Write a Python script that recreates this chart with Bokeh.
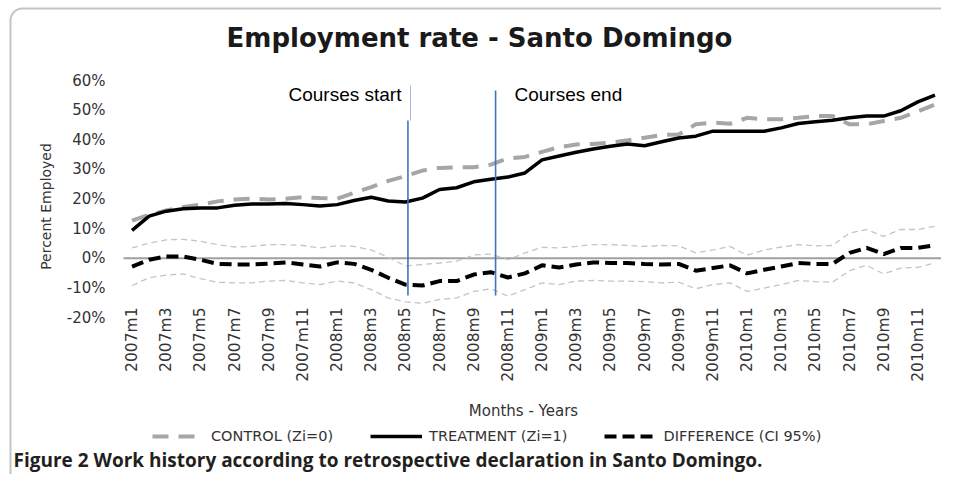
import math
from bokeh.plotting import figure
from bokeh.models import Range1d, Label, Legend, LegendItem, BoxAnnotation
from bokeh.core.properties import value
from bokeh.embed import file_html
from bokeh.resources import INLINE

# ---------------- data ----------------
months = ["2007m1", "2007m2", "2007m3", "2007m4", "2007m5", "2007m6", "2007m7", "2007m8",
          "2007m9", "2007m10", "2007m11", "2007m12",
          "2008m1", "2008m2", "2008m3", "2008m4", "2008m5", "2008m6", "2008m7", "2008m8",
          "2008m9", "2008m10", "2008m11", "2008m12",
          "2009m1", "2009m2", "2009m3", "2009m4", "2009m5", "2009m6", "2009m7", "2009m8",
          "2009m9", "2009m10", "2009m11", "2009m12",
          "2010m1", "2010m2", "2010m3", "2010m4", "2010m5", "2010m6", "2010m7", "2010m8",
          "2010m9", "2010m10", "2010m11", "2010m12"]

control = [12.7, 14.7, 16.1, 17.3, 18.1, 19.2, 19.8, 20.1, 19.8, 20.1, 20.6, 20.3,
           20.1, 22.1, 24.0, 26.1, 27.7, 29.6, 30.5, 30.7, 30.7, 31.6, 33.7, 34.2,
           35.9, 37.5, 38.4, 38.6, 39.0, 39.8, 40.7, 41.6, 41.8, 45.2, 45.8, 45.4,
           47.4, 46.9, 46.9, 47.4, 48.0, 48.0, 45.2, 45.2, 46.3, 47.4, 49.6, 51.9]

treatment = [9.4, 14.2, 15.9, 16.7, 17.0, 17.0, 17.9, 18.3, 18.3, 18.5, 18.1, 17.6,
             18.1, 19.5, 20.6, 19.3, 19.0, 20.3, 23.2, 23.8, 25.8, 26.7, 27.4, 28.8,
             33.2, 34.5, 35.8, 36.9, 37.8, 38.6, 38.0, 39.3, 40.6, 41.2, 42.9, 42.9,
             42.9, 42.9, 44.0, 45.5, 46.1, 46.6, 47.4, 48.0, 48.0, 49.8, 52.8, 55.1]

difference = [-2.8, -0.5, 0.6, 0.6, -0.5, -1.9, -2.1, -2.1, -1.8, -1.4, -2.1, -2.8,
              -1.4, -1.9, -3.9, -6.6, -8.9, -9.2, -7.7, -7.7, -5.5, -4.7, -6.5, -5.1,
              -2.4, -3.1, -2.1, -1.4, -1.6, -1.6, -1.9, -2.1, -1.9, -4.2, -3.3, -2.4,
              -5.1, -3.9, -2.8, -1.6, -1.9, -1.9, 1.8, 3.5, 1.4, 3.5, 3.5, 4.4]

ci_upper = [3.5, 5.1, 6.2, 6.4, 5.7, 4.6, 3.8, 4.0, 4.6, 4.6, 4.3, 3.5,
            4.2, 4.0, 2.8, 0.3, -2.6, -2.1, -1.6, -1.0, 1.1, 1.4, -0.5, 1.8,
            3.7, 3.5, 4.0, 4.6, 4.6, 4.3, 4.0, 4.3, 4.2, 1.8, 2.8, 4.0,
            1.0, 2.8, 3.8, 4.6, 4.2, 4.3, 8.5, 9.7, 7.4, 9.7, 9.7, 10.8]

ci_lower = [-9.2, -6.6, -5.7, -5.3, -6.9, -8.1, -8.3, -8.3, -7.7, -7.5, -8.3, -8.9,
            -7.7, -8.3, -10.6, -13.4, -14.7, -15.2, -13.9, -13.4, -11.2, -10.3, -12.8, -10.6,
            -8.3, -8.9, -7.7, -7.5, -7.7, -7.7, -7.9, -8.3, -8.1, -10.3, -8.9, -8.3,
            -11.2, -10.1, -8.9, -7.5, -7.9, -8.1, -4.2, -2.4, -5.3, -3.3, -3.1, -1.6]

y_ticks = [-20, -10, 0, 10, 20, 30, 40, 50, 60]
x_ticks = list(range(0, len(months), 2))
x_tick_labels = [months[i] for i in x_ticks]

# course markers (month-index units, percent units)
course_start_x = 16.15
course_end_x = 21.28
marker_bottom = -12.6
course_start_top = 46.5
course_start_thin_top = 58.3
course_end_top = 56.6

x = list(range(len(months)))

# ---------------- layout ----------------
W, H = 941, 474
# plot area (picture px): x 123..943 <-> -0.5..47.5 ; y 80..317 <-> 60..-20
PX0, PX1, PY0, PY1 = 123, 943, 80, 317
X0, X1, Y0, Y1 = -0.5, 47.5, -20, 60


def dx(px):
    return X0 + (px - PX0) / (PX1 - PX0) * (X1 - X0)


def dy(py):
    return Y1 - (py - PY0) / (PY1 - PY0) * (Y1 - Y0)


p = figure(width=W, height=H, output_backend="svg", toolbar_location=None,
           x_range=Range1d(dx(0), dx(W)), y_range=Range1d(dy(H), dy(0)),
           min_border=0, x_axis_location=None, y_axis_location=None, title=None)
p.xgrid.visible = False
p.ygrid.visible = False
p.outline_line_color = None

TXT = "#333333"
FONT = "DejaVu Sans"

# frame box round the figure
p.add_layout(BoxAnnotation(left=dx(10), right=dx(1200), top=dy(8), bottom=dy(700),
                           fill_alpha=0, line_color="#3a3a3a", line_width=2,
                           border_radius=12, level="underlay"))

# y tick labels
p.text(x=[dx(105)] * len(y_ticks), y=y_ticks, text=[f"{t}%" for t in y_ticks],
       text_align="right", text_baseline="middle", text_font=value(FONT),
       text_font_size=value("15px"), text_color=TXT)
# x tick labels
p.text(x=x_ticks, y=[dy(307)] * len(x_ticks), text=x_tick_labels, angle=math.pi / 2,
       text_align="right", text_baseline="middle", text_font=value(FONT),
       text_font_size=value("15.5px"), text_color=TXT)

# zero / category axis line
p.segment(x0=[X0], y0=[0], x1=[X1], y1=[0], line_color="#a0a0a0", line_width=2)

# series
p.line(x, ci_upper, line_color="#c4c4c4", line_width=1.3, line_dash="6 4")
p.line(x, ci_lower, line_color="#c4c4c4", line_width=1.3, line_dash="6 4")
r_c = p.line(x, control, line_color="#a6a6a6", line_width=4, line_dash="16 10")
r_d = p.line(x, difference, line_color="black", line_width=4, line_dash="12 6")
r_t = p.line(x, treatment, line_color="black", line_width=3.5)

# course markers
p.segment(x0=[course_start_x, course_start_x + 0.15, course_end_x],
          y0=[marker_bottom, course_start_top, marker_bottom],
          x1=[course_start_x, course_start_x + 0.15, course_end_x],
          y1=[course_start_top, course_start_thin_top, course_end_top],
          line_color="#4472c4", line_width=[1.6, 1.0, 1.6], line_alpha=[1, 0.5, 1])

p.add_layout(Label(x=dx(288), y=dy(94), text="Courses start", text_font="Liberation Sans",
                   text_font_size="19px", text_color="black", text_align="left",
                   text_baseline="middle"))
p.add_layout(Label(x=dx(514), y=dy(94), text="Courses end", text_font="Liberation Sans",
                   text_font_size="19px", text_color="black", text_align="left",
                   text_baseline="middle"))

# title
p.add_layout(Label(x=dx(479), y=dy(37), text="Employment rate - Santo Domingo", text_font=FONT,
                   text_font_style="bold", text_font_size="26px", text_color="#1a1a1a",
                   text_align="center", text_baseline="middle"))
# axis titles
p.add_layout(Label(x=dx(45), y=dy(206), text="Percent Employed", text_font=FONT,
                   text_font_size="14px", text_color=TXT, angle=math.pi / 2,
                   text_align="center", text_baseline="middle"))
p.add_layout(Label(x=dx(523), y=dy(410), text="Months - Years", text_font=FONT,
                   text_font_size="15px", text_color=TXT, text_align="center",
                   text_baseline="middle"))
# caption
p.add_layout(Label(x=dx(13), y=dy(459),
                   text="Figure 2 Work history according to retrospective declaration in Santo Domingo.",
                   text_font="Open Sans", text_font_style="bold", text_font_size="19px",
                   text_color="#231f20", text_align="left", text_baseline="middle"))

# legend
legend = Legend(items=[LegendItem(label="CONTROL (Zi=0)", renderers=[r_c]),
                       LegendItem(label="TREATMENT (Zi=1)", renderers=[r_t]),
                       LegendItem(label="DIFFERENCE (CI 95%)", renderers=[r_d])],
                orientation="horizontal", location=(152, H - 444),
                glyph_width=52, glyph_height=16, label_standoff=7, spacing=37,
                padding=0, margin=0, border_line_color=None, background_fill_alpha=0,
                label_text_font=FONT, label_text_font_size="14.5px", label_text_color=TXT,
                label_height=16)
p.add_layout(legend)

open("out.html", "w").write(file_html(p, INLINE))
